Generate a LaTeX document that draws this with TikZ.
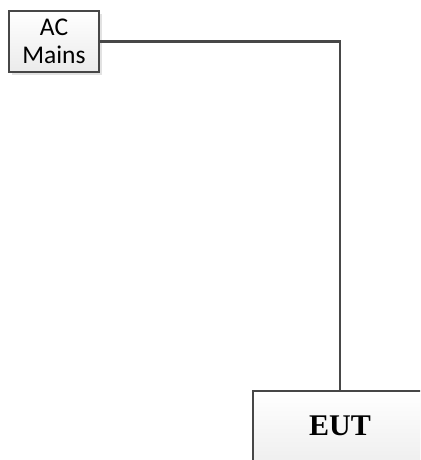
\documentclass[tikz,border=0pt]{standalone}
\usepackage{fontspec}
\setmainfont{Carlito}
\newfontfamily\timesfont{Liberation Serif}
\usetikzlibrary{shadows}

\tikzset{
  blockbox/.style={draw=black!72, line width=2pt, rectangle, top color=white, bottom color=black!8,
    drop shadow={shadow xshift=3pt, shadow yshift=-3pt, fill=black!22}},
  wire/.style={draw=black!72, line width=2.4pt},
  wireshadow/.style={draw=black!15, line width=2.4pt}
}

\begin{document}
\begin{tikzpicture}[x=1pt, y=-1pt]
  \clip (0,0) rectangle (420,460);
  \fill[white] (0,0) rectangle (420,460);
  \node[blockbox, minimum width=90pt, minimum height=61pt, inner sep=0pt, align=center,
    font=\fontsize{25.5}{28}\selectfont] (acmains) at (54,41.5) {AC\\Mains};
  \node[blockbox, minimum width=174pt, minimum height=90pt, inner sep=0pt,
    font=\timesfont\bfseries\fontsize{30}{34}\selectfont, anchor=north] (eut) at (340,390)
    {\raisebox{1pt}[0pt][0pt]{EUT}};
  \draw[wireshadow, xshift=3pt, yshift=-3pt] (acmains.east) -| (eut.north);
  \draw[wire] (acmains.east) -| (eut.north);
\end{tikzpicture}
\end{document}
